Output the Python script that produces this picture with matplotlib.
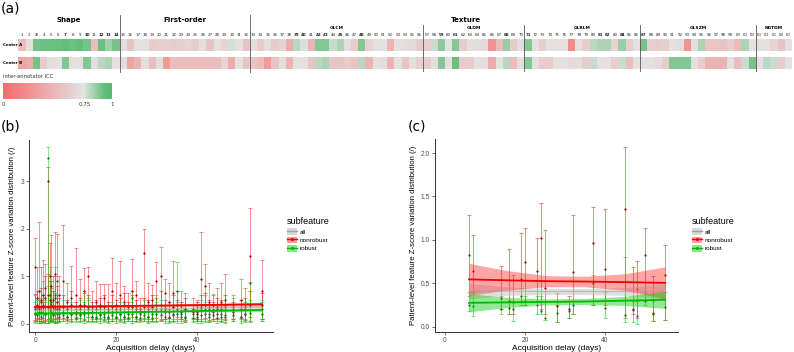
import numpy as np
import matplotlib
matplotlib.use('Agg')
import matplotlib.pyplot as plt
from matplotlib.colors import LinearSegmentedColormap
from matplotlib.patches import Patch
from matplotlib.lines import Line2D
from matplotlib.cm import ScalarMappable
from matplotlib.colors import Normalize

# ---- panel (a): inter-annotator ICC per feature (1..107) ----
icc_center_a = [0.50, 0.72, 0.90, 0.92, 0.92, 0.92, 0.93, 0.92, 0.93, 0.90, 0.50, 0.92, 0.84, 0.90,
                0.70, 0.55, 0.72, 0.72, 0.60, 0.62, 0.62, 0.60, 0.62, 0.65, 0.60,
                0.70, 0.55, 0.72, 0.65, 0.76, 0.72, 0.55,
                0.70, 0.60, 0.70, 0.60, 0.65, 0.40, 0.80, 0.75, 0.45, 0.88, 0.88, 0.78, 0.82, 0.70, 0.60, 0.88, 0.65, 0.72, 0.72, 0.45,
                0.72, 0.70, 0.68, 0.60,
                0.60, 0.78, 0.87, 0.72, 0.88, 0.60, 0.70, 0.70, 0.68, 0.25, 0.50, 0.85, 0.60, 0.70,
                0.88, 0.72, 0.62, 0.72, 0.72, 0.72, 0.20, 0.72, 0.60, 0.80, 0.82, 0.82, 0.65, 0.85, 0.60, 0.72,
                0.90, 0.62, 0.60, 0.62, 0.72, 0.70, 0.25, 0.70, 0.82, 0.55, 0.55, 0.55, 0.60, 0.50, 0.82, 0.72,
                0.72, 0.72, 0.65, 0.55, 0.72]
icc_center_b = [0.35, 0.40, 0.90, 0.60, 0.70, 0.72, 0.88, 0.72, 0.72, 0.88, 0.70, 0.80, 0.82, 0.72,
                0.70, 0.35, 0.45, 0.70, 0.50, 0.70, 0.30, 0.50, 0.50, 0.50, 0.50,
                0.50, 0.50, 0.50, 0.65, 0.40, 0.72, 0.55,
                0.55, 0.50, 0.30, 0.55, 0.70, 0.45, 0.72, 0.72, 0.55, 0.80, 0.82, 0.55, 0.55, 0.60, 0.55, 0.80, 0.45, 0.72, 0.70, 0.45,
                0.72, 0.55, 0.70, 0.62,
                0.60, 0.70, 0.88, 0.72, 0.92, 0.60, 0.60, 0.72, 0.70, 0.40, 0.72, 0.80, 0.50, 0.72,
                0.88, 0.72, 0.60, 0.60, 0.72, 0.72, 0.68, 0.70, 0.60, 0.78, 0.72, 0.72, 0.62, 0.78, 0.50, 0.72,
                0.72, 0.72, 0.68, 0.60, 0.88, 0.88, 0.88, 0.72, 0.60, 0.45, 0.45, 0.45, 0.72, 0.50, 0.78, 0.90,
                0.72, 0.80, 0.78, 0.60, 0.72]
bold_features = [3, 7, 10, 12, 13, 14, 39, 40, 42, 43, 45, 48, 59, 61, 68, 71, 81, 82, 84, 87]
major_groups = [("Shape", 1, 14), ("First-order", 15, 32)]
texture_groups = [("GLCM", 33, 56), ("GLDM", 57, 70), ("GLRLM", 71, 86), ("GLSZM", 87, 102), ("NGTDM", 103, 107)]

# ---- panel (b): all patients ----
b_x = [0, 0.5, 1, 1.5, 2, 2.5, 3.3, 3.6, 4, 4.5, 5, 5.5, 6, 7, 8, 9, 10, 11, 12, 13, 14, 15, 16, 17, 18, 19,
       20, 21, 22, 23, 24, 25, 26, 27, 28, 29, 30, 31, 32, 33, 34, 35, 36, 37, 39, 40, 41, 42, 43, 44, 45,
       46, 47, 49, 51, 52, 53, 56]
# tallest nonrobust bar per delay
b_red_hi = [1.8, 1.2, 2.15, 1.2, 1.35, 1.25, 3.3, 1.7, 1.87, 1.0, 1.94, 1.9, 1.0, 2.08, 0.85, 1.22, 1.6, 0.95,
            1.18, 1.2, 0.7, 0.9, 0.83, 0.83, 0.83, 1.38, 0.85, 1.32, 0.8, 0.65, 1.36, 0.9, 0.55, 2.0, 0.85,
            0.82, 1.3, 1.62, 0.95, 0.85, 1.33, 0.7, 0.7, 0.65, 0.55, 0.5, 1.94, 1.25, 0.85, 0.6, 0.75, 0.85,
            1.05, 0.6, 0.95, 0.75, 2.45, 1.35]
b_red_lo = [0.05, 0.1, 0.05, 0.1, 0.05, 0.02, 0.02, 0.05, 0.05, 0.1, 0.03, 0.05, 0.1, 0.1, 0.1, 0.1, 0.15, 0.05,
            0.1, 0.05, 0.1, 0.05, 0.1, 0.1, 0.05, 0.1, 0.1, 0.1, 0.05, 0.1, 0.05, 0.1, 0.1, 0.1, 0.05, 0.1,
            0.05, 0.1, 0.1, 0.05, 0.1, 0.1, 0.1, 0.05, 0.1, 0.05, 0.1, 0.1, 0.05, 0.1, 0.1, 0.1, 0.1, 0.1,
            0.1, 0.1, 0.05, 0.1]
b_red_mid = [1.2, 0.55, 0.7, 0.5, 0.6, 0.75, 3.0, 1.0, 0.8, 0.5, 1.05, 0.9, 0.6, 0.9, 0.45, 0.55, 0.6, 0.4,
             0.7, 1.0, 0.35, 0.45, 0.4, 0.55, 0.3, 0.7, 0.4, 0.6, 0.45, 0.35, 0.7, 0.6, 0.3, 1.5, 0.45, 0.5,
             0.9, 1.0, 0.65, 0.45, 0.65, 0.4, 0.4, 0.3, 0.3, 0.2, 0.95, 0.8, 0.45, 0.4, 0.35, 0.45, 0.5, 0.35,
             0.5, 0.35, 1.42, 0.7]
# shorter nonrobust bars at the same delays
b_red2_hi = [0.62, 0.70, 0.55, 0.75, 0.60, 1.00, 1.05, 0.90, 0.75, 0.70, 1.00, 0.80, 0.55,
             0.60, 0.50, 0.70, 0.45, 0.55, 0.65, 0.60, 0.45, 0.50, 0.55, 0.60, 0.45, 0.60, 0.50, 0.55, 0.65,
             0.45, 0.60, 0.50, 0.40, 0.55, 0.50, 0.60, 0.55, 0.70, 0.50, 0.45, 0.60, 0.50, 0.45, 0.55,
             0.40, 0.45, 0.60, 0.65, 0.50, 0.45, 0.55, 0.50, 0.60,
             0.45, 0.50, 0.55, 0.70, 0.65]
b_red2_lo = [0.08, 0.12, 0.10, 0.05, 0.12, 0.08, 0.10, 0.12, 0.08, 0.05, 0.10, 0.12, 0.05,
             0.12, 0.08, 0.05, 0.10, 0.12, 0.08, 0.15, 0.05, 0.10, 0.12, 0.08, 0.10, 0.05, 0.12, 0.08, 0.10,
             0.12, 0.15, 0.05, 0.08, 0.12, 0.10, 0.05, 0.12, 0.08, 0.10, 0.12, 0.05, 0.15, 0.10, 0.08,
             0.12, 0.10, 0.05, 0.12, 0.08, 0.10, 0.12, 0.05, 0.08,
             0.10, 0.12, 0.08, 0.15, 0.10]
b_red2_mid = [0.35, 0.40, 0.30, 0.45, 0.35, 0.55, 0.60, 0.50, 0.40, 0.35, 0.55, 0.45, 0.30,
              0.35, 0.30, 0.40, 0.25, 0.30, 0.40, 0.35, 0.25, 0.30, 0.35, 0.35, 0.25, 0.35, 0.30, 0.30, 0.40,
              0.25, 0.35, 0.30, 0.25, 0.35, 0.30, 0.35, 0.30, 0.40, 0.30, 0.25, 0.35, 0.30, 0.25, 0.30,
              0.25, 0.25, 0.35, 0.40, 0.30, 0.25, 0.30, 0.30, 0.35,
              0.25, 0.30, 0.30, 0.40, 0.40]
b_grn_hi = [0.6, 0.5, 0.7, 0.45, 0.9, 0.5, 3.72, 1.2, 0.9, 0.4, 1.2, 0.6, 0.4, 0.5, 0.3, 0.4, 0.35, 0.5, 0.7,
            0.55, 0.3, 0.35, 0.3, 0.4, 0.3, 0.45, 0.3, 0.35, 0.3, 0.4, 0.7, 0.3, 0.3, 0.5, 0.3, 0.35, 0.6,
            0.5, 0.4, 0.3, 0.35, 1.3, 0.4, 0.3, 0.4, 0.3, 0.5, 0.6, 0.35, 0.62, 0.35, 0.35, 0.3, 0.55, 0.3,
            0.35, 0.88, 0.5]
b_grn_lo = [0.02, 0.05, 0.02, 0.02, 0.03, 0.02, 0.05, 0.05, 0.05, 0.03, 0.02, 0.02, 0.05, 0.05, 0.05, 0.05,
            0.05, 0.03, 0.05, 0.05, 0.05, 0.03, 0.05, 0.05, 0.02, 0.05, 0.05, 0.05, 0.02, 0.05, 0.05, 0.05,
            0.05, 0.05, 0.03, 0.05, 0.05, 0.05, 0.05, 0.02, 0.05, 0.02, 0.05, 0.03, 0.05, 0.02, 0.05, 0.05,
            0.03, 0.05, 0.05, 0.05, 0.02, 0.05, 0.05, 0.05, 0.05, 0.05]
b_grn_mid = [0.3, 0.2, 0.35, 0.25, 0.4, 0.2, 3.5, 0.6, 0.45, 0.2, 0.6, 0.3, 0.2, 0.25, 0.15, 0.2, 0.2, 0.2,
             0.25, 0.3, 0.15, 0.15, 0.2, 0.2, 0.15, 0.25, 0.15, 0.2, 0.15, 0.2, 0.55, 0.15, 0.2, 0.25, 0.15,
             0.2, 0.4, 0.3, 0.25, 0.15, 0.2, 0.7, 0.2, 0.15, 0.2, 0.1, 0.3, 0.3, 0.2, 0.3, 0.2, 0.2, 0.15,
             0.3, 0.15, 0.2, 0.85, 0.3]
b_grn2_hi = [0.45, 0.40, 0.50, 0.38, 0.55, 0.45, 0.80, 0.60, 0.55, 0.40, 0.65, 0.45, 0.35,
             0.40, 0.35, 0.45, 0.30, 0.40, 0.45, 0.50, 0.35, 0.30, 0.40, 0.35, 0.30, 0.40, 0.35, 0.45, 0.35,
             0.30, 0.45, 0.35, 0.30, 0.40, 0.35, 0.30, 0.45, 0.40, 0.35, 0.30, 0.40, 0.45, 0.35, 0.30,
             0.30, 0.35, 0.40, 0.45, 0.35, 0.40, 0.30, 0.35, 0.40,
             0.40, 0.35, 0.45, 0.50, 0.45]
b_grn2_lo = [0.03, 0.05, 0.02, 0.04, 0.03, 0.05, 0.02, 0.04, 0.03, 0.05, 0.02, 0.04, 0.03,
             0.05, 0.02, 0.04, 0.03, 0.05, 0.02, 0.04, 0.03, 0.05, 0.02, 0.04, 0.03, 0.05, 0.02, 0.04, 0.03,
             0.05, 0.02, 0.04, 0.03, 0.05, 0.02, 0.04, 0.03, 0.05, 0.02, 0.04, 0.03, 0.05, 0.02, 0.04,
             0.03, 0.05, 0.02, 0.04, 0.03, 0.05, 0.02, 0.04, 0.03,
             0.05, 0.02, 0.04, 0.03, 0.05]
b_grn2_mid = [0.20, 0.18, 0.25, 0.15, 0.22, 0.20, 0.35, 0.28, 0.25, 0.18, 0.30, 0.20, 0.15,
              0.18, 0.15, 0.20, 0.12, 0.18, 0.20, 0.22, 0.15, 0.12, 0.18, 0.15, 0.12, 0.18, 0.15, 0.20, 0.15,
              0.12, 0.20, 0.15, 0.12, 0.18, 0.15, 0.12, 0.20, 0.18, 0.15, 0.12, 0.18, 0.20, 0.15, 0.12,
              0.12, 0.15, 0.18, 0.20, 0.15, 0.18, 0.12, 0.15, 0.18,
              0.18, 0.15, 0.20, 0.22, 0.20]
# fitted trend (b)
b_fit_x = [0, 14, 28, 42, 56]
b_red_fit = [0.355, 0.365, 0.38, 0.395, 0.41]
b_red_fit_lo = [0.32, 0.34, 0.358, 0.367, 0.37]
b_red_fit_hi = [0.39, 0.39, 0.402, 0.423, 0.45]
b_grn_fit = [0.215, 0.23, 0.25, 0.27, 0.29]
b_grn_fit_lo = [0.185, 0.21, 0.232, 0.248, 0.255]
b_grn_fit_hi = [0.245, 0.25, 0.268, 0.292, 0.325]
b_all_fit = [0.28, 0.295, 0.31, 0.33, 0.35]
b_all_fit_lo = [0.26, 0.28, 0.295, 0.312, 0.325]
b_all_fit_hi = [0.30, 0.31, 0.325, 0.348, 0.375]

# ---- panel (c): subset ----
c_x = [6, 7, 14, 16, 17, 19, 20, 23, 24, 25, 28, 31, 32, 37, 40, 45, 47, 48, 50, 52, 55]
c_red_hi = [1.29, 1.06, 0.70, 0.89, 0.60, 1.08, 1.14, 1.02, 1.42, 1.11, 0.39, 0.35, 1.29, 1.38, 1.36, 2.07,
            0.69, 0.76, 1.14, 0.58, 0.94]
c_red_lo = [0.35, 0.40, 0.20, 0.15, 0.15, 0.30, 0.25, 0.30, 0.20, 0.15, 0.05, 0.10, 0.15, 0.25, 0.25, 0.10,
            0.15, 0.10, 0.30, 0.07, 0.08]
c_red_mid = [0.83, 0.64, 0.33, 0.30, 0.28, 0.55, 0.74, 0.64, 1.02, 0.45, 0.24, 0.20, 0.63, 0.96, 0.66, 1.35,
             0.20, 0.43, 0.83, 0.16, 0.60]
c_grn_hi = [0.40, 0.40, 0.35, 0.30, 0.30, 0.45, 0.35, 0.35, 0.35, 0.30, 0.25, 0.30, 0.30, 0.60, 0.40, 0.80,
            0.30, 0.30, 0.40, 0.30, 0.40]
c_grn_lo = [0.18, 0.12, 0.15, 0.15, 0.06, 0.25, 0.25, 0.15, 0.15, 0.08, 0.05, 0.10, 0.15, 0.25, 0.10, 0.05,
            0.05, 0.03, 0.25, 0.07, 0.08]
c_grn_mid = [0.25, 0.24, 0.20, 0.22, 0.20, 0.35, 0.30, 0.25, 0.18, 0.10, 0.16, 0.18, 0.25, 0.50, 0.22, 0.13,
             0.19, 0.12, 0.30, 0.15, 0.23]
c_fit_x = [6, 15, 25, 35, 45, 55]
c_red_fit = [0.545, 0.535, 0.525, 0.52, 0.513, 0.505]
c_red_fit_lo = [0.36, 0.42, 0.46, 0.46, 0.42, 0.32]
c_red_fit_hi = [0.73, 0.65, 0.59, 0.58, 0.61, 0.69]
c_grn_fit = [0.275, 0.28, 0.285, 0.29, 0.30, 0.31]
c_grn_fit_lo = [0.17, 0.22, 0.25, 0.255, 0.245, 0.21]
c_grn_fit_hi = [0.38, 0.34, 0.32, 0.325, 0.35, 0.41]
c_all_fit = [0.41, 0.41, 0.405, 0.405, 0.405, 0.405]
c_all_fit_lo = [0.32, 0.36, 0.37, 0.37, 0.36, 0.32]
c_all_fit_hi = [0.50, 0.46, 0.44, 0.44, 0.45, 0.49]

legend_labels = ["all", "nonrobust", "robust"]

W, H = 794, 352
fig = plt.figure(figsize=(W / 100, H / 100), dpi=100)
plt.rcParams['font.family'] = ['DejaVu Sans']


def fx(px):
    return px / W


def fy(py):
    return 1 - py / H


# ---------------- panel (a) ----------------
icc_cmap = LinearSegmentedColormap.from_list(
    "icc", [(0, '#F8696B'), (0.74, '#E3E3E3'), (0.93, '#63BE7B'), (1, '#5CB86F')])

ax_hm = fig.add_axes([fx(18.4), fy(110), (792 - 18.4) / W, 110 / H])
n_feat = len(icc_center_a)
xedges = np.arange(n_feat + 1) + 0.5
ax_hm.pcolormesh(xedges, [39, 51], np.array([icc_center_a]), cmap=icc_cmap, vmin=0, vmax=1)
ax_hm.pcolormesh(xedges, [57, 69], np.array([icc_center_b]), cmap=icc_cmap, vmin=0, vmax=1)
ax_hm.set_xlim(0.5, n_feat + 0.5)
ax_hm.set_ylim(110, 0)
ax_hm.axis('off')

for i in range(1, n_feat + 1):
    ax_hm.text(i, 34.5, str(i), fontsize=2.9 if i < 100 else 2.0, ha='center', va='center',
               color='#222222', fontweight='bold' if i in bold_features else 'normal')

for name, a, b in major_groups:
    ax_hm.text((a + b) / 2, 20, name, fontsize=5, fontweight='bold', ha='center', va='center')
    ax_hm.plot([b + 0.5, b + 0.5], [15, 72], color='#555555', lw=0.6, clip_on=False)
ax_hm.text(62.4, 20, "Texture", fontsize=5, fontweight='bold', ha='center', va='center')
for name, a, b in texture_groups:
    ax_hm.text((a + b) / 2, 28, name, fontsize=3.2, fontweight='bold', ha='center', va='center')
    if a > 33:
        ax_hm.plot([a - 0.5, a - 0.5], [25, 71], color='#555555', lw=0.6, clip_on=False)

fig.text(fx(3), fy(45), "Center A", fontsize=2.8, fontweight='bold', va='center')
fig.text(fx(3), fy(63), "Center B", fontsize=2.8, fontweight='bold', va='center')

fig.text(fx(3), fy(77), "inter-annotator ICC", fontsize=3.8, va='center', color='#333333')
ax_cb = fig.add_axes([fx(3), fy(99), 109 / W, 16 / H])
cb = fig.colorbar(ScalarMappable(norm=Normalize(0, 1), cmap=icc_cmap), cax=ax_cb, orientation='horizontal')
cb.outline.set_visible(False)
cb.set_ticks([0, 0.75, 1])
cb.set_ticklabels(["0", "0.75", "1"])
ax_cb.tick_params(length=0, labelsize=4, pad=2.5, colors='#333333')

fig.text(fx(1), fy(1), "(a)", fontsize=10, va='top')
fig.text(fx(1), fy(119), "(b)", fontsize=10, va='top')
fig.text(fx(408), fy(119), "(c)", fontsize=10, va='top')

# ---------------- panels (b) and (c) ----------------
red_bar, grn_bar = '#E81818', '#18C818'
red_pt, grn_pt = '#A00000', '#107010'


def draw_bars(ax, x, hi, lo, mid, bar_col, pt_col, alpha):
    x, hi, lo, mid = np.array(x), np.array(hi), np.array(lo), np.array(mid)
    ax.errorbar(x, mid, yerr=[mid - lo, hi - mid], fmt='none', ecolor=bar_col, alpha=alpha,
                elinewidth=0.75, capsize=1.4, capthick=0.75, zorder=2)
    ax.scatter(x, mid, s=2.5, color=pt_col, zorder=3, lw=0)


def draw_fit(ax, fx_, rf, rflo, rfhi, gf, gflo, gfhi, af, aflo, afhi):
    ax.fill_between(fx_, aflo, afhi, color='#BEBEBE', alpha=0.5, lw=0, zorder=4)
    ax.fill_between(fx_, rflo, rfhi, color='#FF2020', alpha=0.4, lw=0, zorder=4)
    ax.fill_between(fx_, gflo, gfhi, color='#10CC10', alpha=0.45, lw=0, zorder=4)
    ax.plot(fx_, af, color='#A0A0A0', lw=0.8, alpha=0.6, zorder=5)
    ax.plot(fx_, rf, color='#EE0000', lw=1.3, zorder=5)
    ax.plot(fx_, gf, color='#00BB00', lw=1.3, zorder=5)


def style_axes(ax):
    for s in ['top', 'right']:
        ax.spines[s].set_visible(False)
    for s in ['left', 'bottom']:
        ax.spines[s].set_color('#333333')
        ax.spines[s].set_linewidth(0.7)
    ax.tick_params(length=2, width=0.5, colors='#333333', labelsize=4.8, labelcolor='#4D4D4D', pad=1.5)
    ax.set_xlabel("Acquisition delay (days)", family='Liberation Sans', fontsize=6, labelpad=1)
    ax.set_ylabel("Patient-level feature Z-score variation distribution (/)", family='Liberation Sans',
                  fontsize=5.6, labelpad=3)
    for lab in ax.get_xticklabels() + ax.get_yticklabels():
        lab.set_family('Liberation Sans')


def add_legend(ax, left_px):
    handles = [(Patch(facecolor='#D9D9D9', edgecolor='none'), Line2D([], [], color='#A0A0A0', lw=1)),
               (Patch(facecolor='#F7A0A0', edgecolor='none'),
                Line2D([], [], color='#EE0000', lw=1, marker='o', markersize=1.2)),
               (Patch(facecolor='#8CE58C', edgecolor='none'),
                Line2D([], [], color='#00BB00', lw=1, marker='o', markersize=1.2))]
    leg = ax.legend(handles, legend_labels, title="subfeature", loc='upper left',
                    bbox_to_anchor=(fx(left_px), fy(214)), bbox_transform=fig.transFigure,
                    frameon=False, handlelength=1.5, handleheight=1.2,
                    labelspacing=0.3, handletextpad=0.5, borderpad=0, alignment='left',
                    prop={'family': 'Liberation Sans', 'size': 4.6})
    leg.get_title().set_family('Liberation Sans')
    leg.get_title().set_fontsize(6.5)


ax_b = fig.add_axes([fx(29), fy(332), (273 - 29) / W, (332 - 140) / H])
draw_bars(ax_b, b_x, b_red_hi, b_red_lo, b_red_mid, red_bar, red_pt, 0.45)
draw_bars(ax_b, b_x, b_red2_hi, b_red2_lo, b_red2_mid, red_bar, red_pt, 0.55)
draw_bars(ax_b, b_x, b_grn_hi, b_grn_lo, b_grn_mid, grn_bar, grn_pt, 0.5)
draw_bars(ax_b, b_x, b_grn2_hi, b_grn2_lo, b_grn2_mid, grn_bar, grn_pt, 0.55)
draw_fit(ax_b, b_fit_x, b_red_fit, b_red_fit_lo, b_red_fit_hi, b_grn_fit, b_grn_fit_lo, b_grn_fit_hi,
         b_all_fit, b_all_fit_lo, b_all_fit_hi)
ax_b.set_xlim(-1.5, 58.8)
ax_b.set_ylim(-0.175, 3.875)
ax_b.set_xticks([0, 20, 40])
ax_b.set_yticks([0, 1, 2, 3])
style_axes(ax_b)
add_legend(ax_b, 284)

ax_c = fig.add_axes([fx(435), fy(332), (678 - 435) / W, (332 - 139) / H])
draw_bars(ax_c, c_x, c_red_hi, c_red_lo, c_red_mid, red_bar, red_pt, 0.5)
draw_bars(ax_c, c_x, c_grn_hi, c_grn_lo, c_grn_mid, grn_bar, grn_pt, 0.55)
draw_fit(ax_c, c_fit_x, c_red_fit, c_red_fit_lo, c_red_fit_hi, c_grn_fit, c_grn_fit_lo, c_grn_fit_hi,
         c_all_fit, c_all_fit_lo, c_all_fit_hi)
ax_c.set_xlim(-2.5, 58.25)
ax_c.set_ylim(-0.061, 2.162)
ax_c.set_xticks([0, 20, 40])
ax_c.set_yticks([0.0, 0.5, 1.0, 1.5, 2.0])
ax_c.set_yticklabels(["0.0", "0.5", "1.0", "1.5", "2.0"])
style_axes(ax_c)
add_legend(ax_c, 689)

fig.savefig("out.png", dpi=100)
